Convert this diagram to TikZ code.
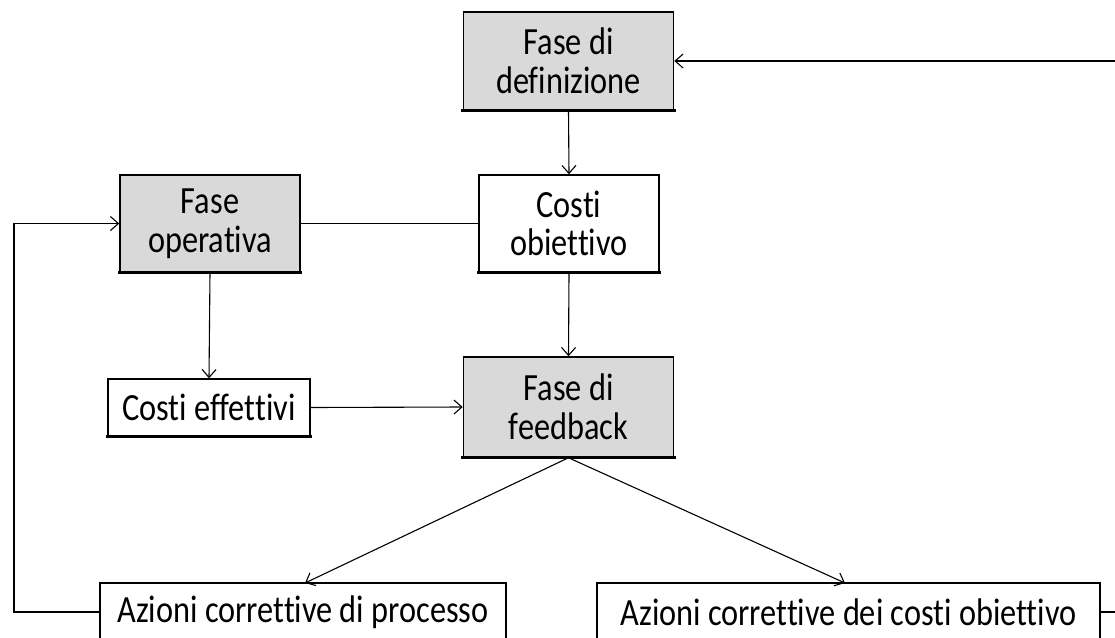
\documentclass[tikz,border=0pt]{standalone}
\usepackage{fontspec}
\setmainfont{Carlito}[Ligatures={NoCommon}, FakeStretch=0.84]
\usetikzlibrary{arrows.meta}
\definecolor{phasegray}{HTML}{D9D9D9}
\tikzset{
  box/.style={draw=black, line width=1.5pt, inner sep=0pt, align=center,
    font=\fontsize{38.5}{38.5}\selectfont},
  phase/.style={box, fill=phasegray},
  cost/.style={box, fill=white},
  link/.style={draw=black, line width=1.1pt},
  flow/.style={link, -{Straight Barb[length=8pt, width=14pt, line width=1.1pt]}},
}
\begin{document}
\begin{tikzpicture}[x=1pt, y=-1pt]
  \useasboundingbox (0,0) rectangle (1115,637);
  \clip (0,0) rectangle (1115,637);
  \fill[white] (0,0) rectangle (1115,637);

  % phases and cost boxes
  \node[phase, minimum width=210, minimum height=98] (def) at (568.5,61) {Fase di\\definizione};
  \node[cost,  minimum width=180, minimum height=97] (obj) at (569,223.5) {Costi\\obiettivo};
  \node[phase, minimum width=180, minimum height=97] (op)  at (210,223.5) {Fase\\operativa};
  \node[cost,  minimum width=202, minimum height=57] (eff) at (209,407.5) {Costi effettivi};
  \node[phase, minimum width=210, minimum height=100] (fb) at (568.5,407) {Fase di\\feedback};
  \node[cost,  minimum width=406, minimum height=58] (ap)  at (303,612) {Azioni correttive di processo};
  \node[cost,  minimum width=503, minimum height=58] (ao)  at (848.5,612) {Azioni correttive dei costi obiettivo};

  % heavier lower edge on every box
  \foreach \b in {def,obj,op,eff,fb}
    \draw[line width=2.6pt, line cap=rect] (\b.south west) -- (\b.south east);

  % flows
  \draw[flow] (def.south) -- (obj.north);
  \draw[flow] (obj.south) -- (fb.north);
  \draw[link] (op.east) -- (obj.west);
  \draw[flow] (op.south) -- (eff.north);
  \draw[flow] (eff.east) -- (fb.west);
  \coordinate (apTop) at (305,583);
  \coordinate (aoTop) at (845,583);
  \draw[flow] (fb.south) -- (apTop);
  \draw[flow] (fb.south) -- (aoTop);

  % feedback loops
  \coordinate (loopL) at (14,612);
  \coordinate (loopR) at (1130,612);
  \draw[flow] (ap.west) -- (loopL) |- (op.west);
  \draw[flow] (ao.east) -- (loopR) |- (def.east);
\end{tikzpicture}
\end{document}
